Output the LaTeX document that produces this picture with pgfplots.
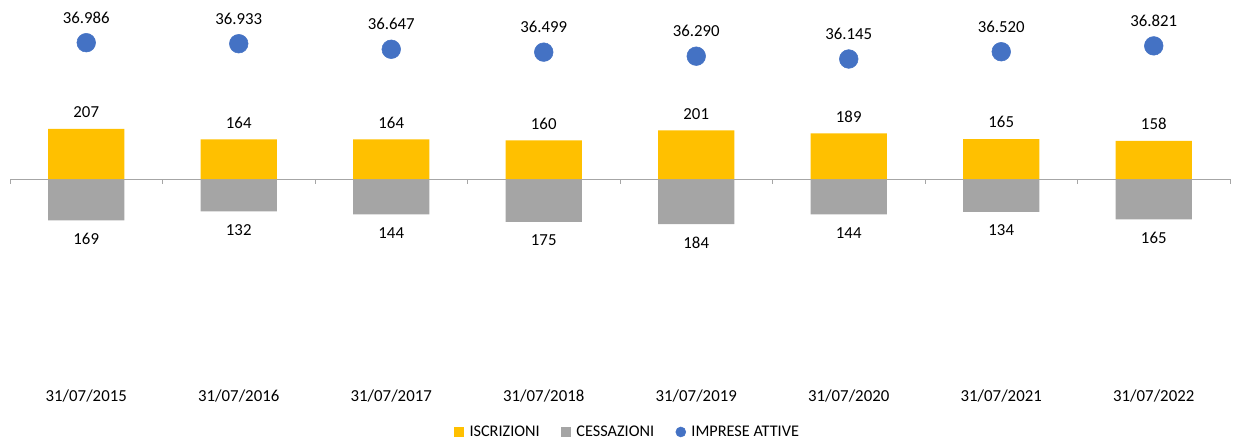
\documentclass[border=0pt]{standalone}
\usepackage{pgfplots}
\pgfplotsset{compat=1.18}
\usepackage{fontspec}
\setmainfont{Carlito}
\definecolor{iscr}{HTML}{FFC000}
\definecolor{cess}{HTML}{A5A5A5}
\definecolor{impr}{HTML}{4472C4}
\definecolor{axln}{HTML}{A6A6A6}
\newcommand{\lblfont}{\fontsize{12.6}{15}\selectfont}
\pgfplotsset{/pgf/number format/assume math mode=true}
\begin{document}
\begin{tikzpicture}[font=\lblfont]
\path[use as bounding box] (-7.5pt,-53.25pt) rectangle (918pt,281.25pt);
\begin{axis}[
  at={(0pt,0pt)}, anchor=south west,
  scale only axis, width=915pt, height=277.5pt,
  xmin=-0.5, xmax=7.5, ymin=-805, ymax=717,
  axis line style={draw=none},
  ytick=\empty,
  xtick={0,...,7},
  xticklabels={31/07/2015,31/07/2016,31/07/2017,31/07/2018,31/07/2019,31/07/2020,31/07/2021,31/07/2022},
  major tick length=0pt,
  xticklabel style={anchor=center, yshift=-15.75pt, font=\lblfont},
  clip=false,
  legend columns=-1,
  legend style={draw=none, fill=none, at={(0.5065,-0.154)}, anchor=center, font=\fontsize{12.2}{15}\selectfont,
    /tikz/every even column/.append style={column sep=14pt}},
]
\addplot[draw=axln, line width=0.75pt, no marks, forget plot] coordinates {(-0.5,0) (7.5,0)};
\addplot[draw=axln, line width=0.75pt, no marks, forget plot, unbounded coords=jump] coordinates {
 (-0.5,0) (-0.5,-21) (-0.5,nan)
 (0.5,0) (0.5,-21) (0.5,nan)
 (1.5,0) (1.5,-21) (1.5,nan)
 (2.5,0) (2.5,-21) (2.5,nan)
 (3.5,0) (3.5,-21) (3.5,nan)
 (4.5,0) (4.5,-21) (4.5,nan)
 (5.5,0) (5.5,-21) (5.5,nan)
 (6.5,0) (6.5,-21) (6.5,nan)
 (7.5,0) (7.5,-21)};
\addplot[ybar, bar width=0.5, bar shift=0pt, fill=iscr, draw=none,
  nodes near coords={\pgfmathprintnumber{\pgfplotspointmeta}},
  nodes near coords style={anchor=south, yshift=4.8pt, font=\lblfont, text=black},
  legend image code/.code={\fill[iscr] (0pt,-3.75pt) rectangle (7.5pt,3.75pt); \path (9.5pt,0pt);}]
  coordinates {(0,207) (1,164) (2,164) (3,160) (4,201) (5,189) (6,165) (7,158)};
\addlegendentry{ISCRIZIONI}
\addplot[ybar, bar width=0.5, bar shift=0pt, fill=cess, draw=none,
  point meta=explicit,
  nodes near coords={\pgfmathprintnumber{\pgfplotspointmeta}},
  nodes near coords style={anchor=north, yshift=-6.3pt, font=\lblfont, text=black},
  legend image code/.code={\fill[cess] (0pt,-3.75pt) rectangle (7.5pt,3.75pt); \path (9.5pt,0pt);}]
  coordinates {(0,-169) [169] (1,-132) [132] (2,-144) [144] (3,-175) [175] (4,-184) [184] (5,-144) [144] (6,-134) [134] (7,-165) [165]};
\addlegendentry{CESSAZIONI}
\addlegendimage{legend image code/.code={\fill[impr] (3.75pt,0pt) circle (3.75pt); \path (9.5pt,0pt);}}
\addlegendentry{IMPRESE ATTIVE}
\end{axis}
\begin{axis}[
  at={(0pt,0pt)}, anchor=south west,
  scale only axis, width=915pt, height=277.5pt,
  xmin=-0.5, xmax=7.5, ymin=19857, ymax=38929,
  hide axis, clip=false,
]
\addplot[only marks, mark=*, mark size=7pt, color=impr, mark options={fill=impr, draw=impr},
  point meta=explicit symbolic,
  nodes near coords={\pgfplotspointmeta},
  nodes near coords style={anchor=south, yshift=11pt, font=\lblfont, text=black}]
  coordinates {(0,36986) [36.986] (1,36933) [36.933] (2,36647) [36.647] (3,36499) [36.499]
               (4,36290) [36.290] (5,36145) [36.145] (6,36520) [36.520] (7,36821) [36.821]};
\end{axis}
\end{tikzpicture}
\end{document}
